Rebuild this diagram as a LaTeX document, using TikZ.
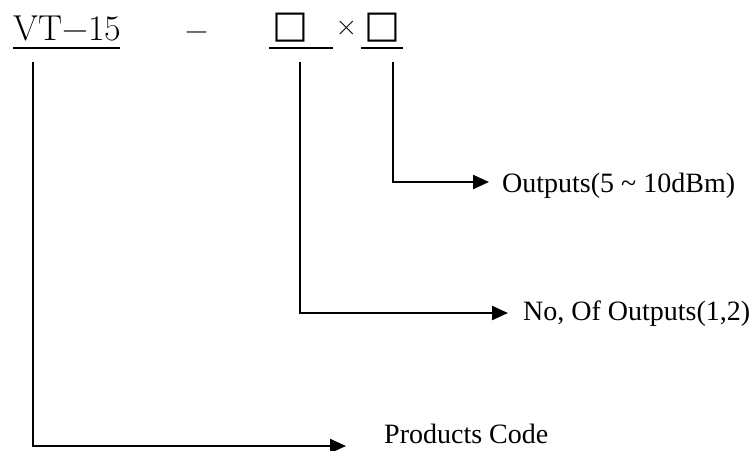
\documentclass[tikz,border=0pt]{standalone}
\usepackage{fontspec}
\newfontfamily\lbl{Liberation Serif}
\newfontfamily\sym{DejaVu Sans}
\usetikzlibrary{arrows.meta}
\begin{document}
\begin{tikzpicture}[x=1pt,y=-1pt,
  code/.style={anchor=base west,inner sep=0pt,font=\fontsize{36}{36}\selectfont},
  boxch/.style={anchor=center,inner sep=0pt,font=\sym\fontsize{38}{38}\selectfont},
  lab/.style={anchor=base west,inner sep=0pt,font=\lbl\fontsize{28}{28}\selectfont},
  uline/.style={line width=2.2pt},
  conn/.style={line width=2.3pt,-{Triangle[length=16pt,width=14pt]}}]
\useasboundingbox (0,0) rectangle (752,450);
% top code
\node[code] (vt) at (13,40) {VT−15};
\node[code,font=\fontsize{32}{32}\selectfont] (dash) at (185,40) {−};
\node[boxch] (b1) at (290,28) {□};
\node[code,anchor=center,font=\fontsize{30}{30}\selectfont] (x) at (346.5,28) {×};
\node[boxch] (b2) at (382,28) {□};
\draw[uline] (13,48) -- (120,48);
\draw[uline] (269,48) -- (333,48);
\draw[uline] (361,48) -- (403,48);
% labels
\node[lab] (l3) at (502,192) {Outputs(5 \textasciitilde{} 10dBm)};
\node[lab] (l2) at (523,320) {No, Of Outputs(1,2)};
\node[lab] (l1) at (384,443) {Products Code};
% connector ends
\coordinate (s1) at (33,62);
\coordinate (s2) at (300,62);
\coordinate (s3) at (393,62);
\coordinate (e3) at (489,182);
\coordinate (e2) at (508,313);
\coordinate (e1) at (346,446);
\draw[conn] (s3) |- (e3);
\draw[conn] (s2) |- (e2);
\draw[conn] (s1) |- (e1);
\end{tikzpicture}
\end{document}
